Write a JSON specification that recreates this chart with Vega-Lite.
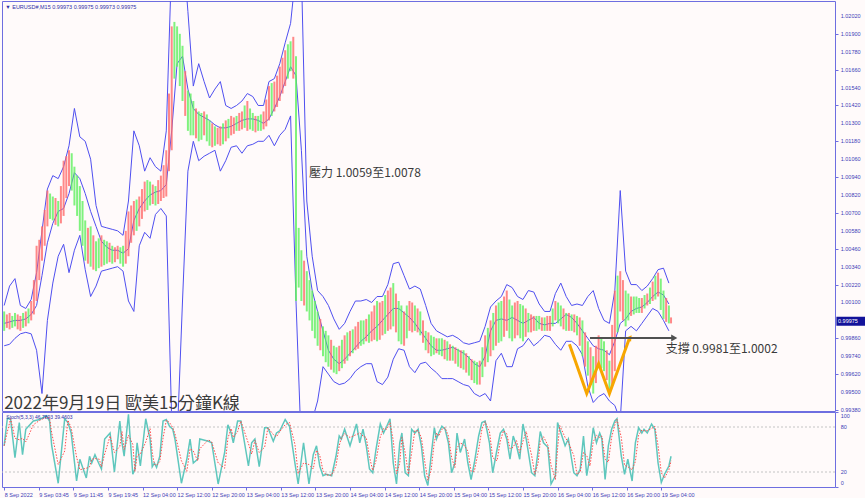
{
"$schema":"https://vega.github.io/schema/vega-lite/v6.json",
"background":"#fffafa",
"padding":0,
"spacing":1,
"bounds":"flush",
"config":{
 "view":{"stroke":"#6e6ee0","strokeWidth":1},
 "axis":{"labelFont":"Liberation Sans","labelFontSize":5.5,"labelColor":"#4040b8","tickColor":"#6e6ee0","domain":false,"grid":false,"tickSize":3,"labelPadding":2,"labelOverlap":false}
},
"datasets":{
"px":[
{"t":0,"lo":0.9991,"hi":1.0004,"s":"d","u":1.0008,"m":0.9996,"b":0.9981},
{"t":5,"lo":0.9992,"hi":1.0003,"s":"u","u":1.0021,"m":0.9997,"b":0.9982},
{"t":10,"lo":0.9994,"hi":1.0003,"s":"d","u":1.0026,"m":0.9998,"b":0.9986},
{"t":15,"lo":0.9991,"hi":1.0001,"s":"u","u":1.0008,"m":0.9998,"b":0.9989},
{"t":20,"lo":0.9994,"hi":1.0004,"s":"u","u":1.0006,"m":0.9999,"b":0.9990},
{"t":25,"lo":0.9998,"hi":1.0011,"s":"u","u":1.0012,"m":1.0002,"b":0.9989},
{"t":30,"lo":1.0011,"hi":1.0048,"s":"u","u":1.0030,"m":1.0008,"b":0.9978},
{"t":35,"lo":1.0038,"hi":1.0061,"s":"u","u":1.0058,"m":1.0028,"b":0.9949},
{"t":40,"lo":1.0061,"hi":1.0085,"s":"u","u":1.0086,"m":1.0050,"b":0.9998},
{"t":45,"lo":1.0065,"hi":1.0081,"s":"d","u":1.0095,"m":1.0063,"b":1.0023},
{"t":50,"lo":1.0061,"hi":1.0078,"s":"d","u":1.0093,"m":1.0071,"b":1.0041},
{"t":55,"lo":1.0068,"hi":1.0105,"s":"u","u":1.0101,"m":1.0073,"b":1.0049},
{"t":60,"lo":1.0088,"hi":1.0112,"s":"u","u":1.0115,"m":1.0083,"b":1.0030},
{"t":65,"lo":1.0075,"hi":1.0101,"s":"d","u":1.0140,"m":1.0097,"b":1.0045},
{"t":70,"lo":1.0058,"hi":1.0088,"s":"d","u":1.0121,"m":1.0093,"b":1.0055},
{"t":75,"lo":1.0038,"hi":1.0065,"s":"d","u":1.0118,"m":1.0083,"b":1.0032},
{"t":80,"lo":1.0034,"hi":1.0061,"s":"d","u":1.0106,"m":1.0071,"b":1.0014},
{"t":85,"lo":1.0031,"hi":1.0051,"s":"d","u":1.0075,"m":1.0061,"b":1.0021},
{"t":90,"lo":1.0034,"hi":1.0055,"s":"u","u":1.0061,"m":1.0051,"b":1.0031},
{"t":95,"lo":1.0036,"hi":1.0051,"s":"d","u":1.0060,"m":1.0047,"b":1.0032},
{"t":100,"lo":1.0036,"hi":1.0048,"s":"d","u":1.0059,"m":1.0045,"b":1.0033},
{"t":105,"lo":1.0039,"hi":1.0048,"s":"u","u":1.0058,"m":1.0045,"b":1.0034},
{"t":110,"lo":1.0034,"hi":1.0048,"s":"d","u":1.0055,"m":1.0043,"b":1.0031},
{"t":115,"lo":1.0041,"hi":1.0071,"s":"u","u":1.0078,"m":1.0046,"b":1.0011},
{"t":120,"lo":1.0055,"hi":1.0078,"s":"u","u":1.0125,"m":1.0065,"b":1.0004},
{"t":125,"lo":1.0061,"hi":1.0081,"s":"u","u":1.0115,"m":1.0073,"b":1.0048},
{"t":130,"lo":1.0071,"hi":1.0091,"s":"u","u":1.0098,"m":1.0078,"b":1.0057},
{"t":135,"lo":1.0075,"hi":1.0091,"s":"d","u":1.0107,"m":1.0082,"b":1.0053},
{"t":140,"lo":1.0075,"hi":1.0088,"s":"d","u":1.0101,"m":1.0084,"b":1.0069},
{"t":145,"lo":1.0078,"hi":1.0095,"s":"u","u":1.0098,"m":1.0085,"b":1.0073},
{"t":150,"lo":1.0081,"hi":1.0112,"s":"u","u":1.0125,"m":1.0089,"b":1.0068},
{"t":155,"lo":1.0112,"hi":1.0195,"s":"u","u":1.0239,"m":1.0125,"b":0.9931},
{"t":160,"lo":1.0168,"hi":1.0195,"s":"d","u":1.0266,"m":1.0170,"b":0.9917},
{"t":165,"lo":1.0145,"hi":1.0182,"s":"d","u":1.0252,"m":1.0175,"b":1.0011},
{"t":170,"lo":1.0125,"hi":1.0152,"s":"d","u":1.0205,"m":1.0153,"b":1.0098},
{"t":175,"lo":1.0122,"hi":1.0145,"s":"d","u":1.0155,"m":1.0140,"b":1.0118},
{"t":180,"lo":1.0118,"hi":1.0138,"s":"d","u":1.0170,"m":1.0136,"b":1.0105},
{"t":185,"lo":1.0122,"hi":1.0138,"s":"u","u":1.0158,"m":1.0134,"b":1.0108},
{"t":190,"lo":1.0115,"hi":1.0132,"s":"d","u":1.0147,"m":1.0132,"b":1.0110},
{"t":195,"lo":1.0115,"hi":1.0128,"s":"d","u":1.0153,"m":1.0129,"b":1.0112},
{"t":200,"lo":1.0115,"hi":1.0128,"s":"u","u":1.0158,"m":1.0127,"b":1.0098},
{"t":205,"lo":1.0118,"hi":1.0132,"s":"u","u":1.0142,"m":1.0127,"b":1.0105},
{"t":210,"lo":1.0122,"hi":1.0135,"s":"u","u":1.0140,"m":1.0128,"b":1.0114},
{"t":215,"lo":1.0125,"hi":1.0135,"s":"d","u":1.0142,"m":1.0130,"b":1.0115},
{"t":220,"lo":1.0126,"hi":1.0138,"s":"u","u":1.0145,"m":1.0132,"b":1.0110},
{"t":225,"lo":1.0125,"hi":1.0145,"s":"u","u":1.0150,"m":1.0133,"b":1.0115},
{"t":230,"lo":1.0125,"hi":1.0137,"s":"d","u":1.0148,"m":1.0133,"b":1.0116},
{"t":235,"lo":1.0125,"hi":1.0135,"s":"d","u":1.0142,"m":1.0132,"b":1.0118},
{"t":240,"lo":1.0126,"hi":1.0138,"s":"u","u":1.0142,"m":1.0130,"b":1.0118},
{"t":245,"lo":1.0132,"hi":1.0155,"s":"u","u":1.0158,"m":1.0133,"b":1.0122},
{"t":250,"lo":1.0138,"hi":1.0158,"s":"u","u":1.0160,"m":1.0140,"b":1.0115},
{"t":255,"lo":1.0145,"hi":1.0168,"s":"u","u":1.0170,"m":1.0148,"b":1.0122},
{"t":260,"lo":1.0155,"hi":1.0179,"s":"u","u":1.0184,"m":1.0158,"b":1.0126},
{"t":265,"lo":1.0165,"hi":1.0185,"s":"d","u":1.0197,"m":1.0168,"b":1.0135},
{"t":270,"lo":1.0011,"hi":1.0175,"s":"d","u":1.0232,"m":1.0162,"b":1.0011},
{"t":275,"lo":1.0011,"hi":1.0045,"s":"d","u":1.0232,"m":1.0112,"b":0.9911},
{"t":280,"lo":1.0004,"hi":1.0031,"s":"d","u":1.0078,"m":1.0041,"b":0.9917},
{"t":285,"lo":0.9991,"hi":1.0018,"s":"d","u":1.0041,"m":1.0018,"b":0.9931},
{"t":290,"lo":0.9981,"hi":1.0004,"s":"d","u":1.0018,"m":1.0004,"b":0.9944},
{"t":295,"lo":0.9974,"hi":0.9994,"s":"d","u":1.0014,"m":0.9991,"b":0.9967},
{"t":300,"lo":0.9967,"hi":0.9988,"s":"d","u":1.0008,"m":0.9978,"b":0.9962},
{"t":305,"lo":0.9963,"hi":0.9981,"s":"d","u":0.9999,"m":0.9972,"b":0.9957},
{"t":310,"lo":0.9964,"hi":0.9981,"s":"u","u":0.9992,"m":0.9969,"b":0.9955},
{"t":315,"lo":0.9969,"hi":0.9988,"s":"u","u":0.9996,"m":0.9972,"b":0.9956},
{"t":320,"lo":0.9974,"hi":0.9991,"s":"u","u":1.0004,"m":0.9976,"b":0.9959},
{"t":325,"lo":0.9978,"hi":0.9994,"s":"u","u":1.0011,"m":0.9980,"b":0.9964},
{"t":330,"lo":0.9981,"hi":0.9998,"s":"d","u":1.0011,"m":0.9984,"b":0.9967},
{"t":335,"lo":0.9984,"hi":0.9999,"s":"u","u":1.0012,"m":0.9987,"b":0.9969},
{"t":340,"lo":0.9984,"hi":1.0004,"s":"u","u":1.0010,"m":0.9991,"b":0.9969},
{"t":345,"lo":0.9984,"hi":1.0011,"s":"d","u":1.0014,"m":0.9994,"b":0.9957},
{"t":350,"lo":0.9988,"hi":1.0011,"s":"u","u":1.0014,"m":0.9998,"b":0.9955},
{"t":355,"lo":0.9991,"hi":1.0018,"s":"u","u":1.0022,"m":1.0002,"b":0.9960},
{"t":360,"lo":0.9994,"hi":1.0023,"s":"d","u":1.0036,"m":1.0006,"b":0.9972},
{"t":365,"lo":0.9984,"hi":1.0011,"s":"d","u":1.0037,"m":1.0006,"b":0.9979},
{"t":370,"lo":0.9981,"hi":1.0004,"s":"u","u":1.0028,"m":1.0003,"b":0.9978},
{"t":375,"lo":0.9991,"hi":1.0011,"s":"u","u":1.0019,"m":1.0000,"b":0.9967},
{"t":380,"lo":0.9991,"hi":1.0008,"s":"d","u":1.0021,"m":0.9996,"b":0.9963},
{"t":385,"lo":0.9988,"hi":1.0004,"s":"d","u":1.0019,"m":0.9991,"b":0.9969},
{"t":390,"lo":0.9978,"hi":0.9991,"s":"d","u":1.0008,"m":0.9986,"b":0.9970},
{"t":395,"lo":0.9974,"hi":0.9988,"s":"d","u":0.9996,"m":0.9981,"b":0.9966},
{"t":400,"lo":0.9976,"hi":0.9986,"s":"u","u":0.9991,"m":0.9978,"b":0.9963},
{"t":405,"lo":0.9974,"hi":0.9986,"s":"d","u":0.9989,"m":0.9978,"b":0.9959},
{"t":410,"lo":0.9971,"hi":0.9984,"s":"d","u":0.9987,"m":0.9979,"b":0.9959},
{"t":415,"lo":0.9971,"hi":0.9981,"s":"d","u":0.9988,"m":0.9980,"b":0.9959},
{"t":420,"lo":0.9967,"hi":0.9979,"s":"d","u":0.9986,"m":0.9978,"b":0.9957},
{"t":425,"lo":0.9965,"hi":0.9978,"s":"d","u":0.9983,"m":0.9976,"b":0.9955},
{"t":430,"lo":0.9961,"hi":0.9974,"s":"d","u":0.9982,"m":0.9973,"b":0.9954},
{"t":435,"lo":0.9956,"hi":0.9971,"s":"d","u":0.9983,"m":0.9969,"b":0.9949},
{"t":440,"lo":0.9955,"hi":0.9971,"s":"u","u":0.9984,"m":0.9967,"b":0.9947},
{"t":445,"lo":0.9967,"hi":0.9988,"s":"u","u":0.9994,"m":0.9974,"b":0.9949},
{"t":450,"lo":0.9974,"hi":0.9998,"s":"u","u":1.0007,"m":0.9991,"b":0.9944},
{"t":455,"lo":0.9981,"hi":1.0008,"s":"u","u":1.0011,"m":0.9998,"b":0.9971},
{"t":460,"lo":0.9984,"hi":1.0011,"s":"d","u":1.0014,"m":0.9999,"b":0.9976},
{"t":465,"lo":0.9991,"hi":1.0018,"s":"u","u":1.0022,"m":0.9998,"b":0.9967},
{"t":470,"lo":0.9984,"hi":1.0008,"s":"d","u":1.0020,"m":1.0000,"b":0.9967},
{"t":475,"lo":0.9988,"hi":1.0011,"s":"u","u":1.0014,"m":0.9998,"b":0.9979},
{"t":480,"lo":0.9984,"hi":1.0008,"s":"d","u":1.0012,"m":0.9996,"b":0.9981},
{"t":485,"lo":0.9990,"hi":1.0003,"s":"d","u":1.0018,"m":0.9998,"b":0.9986},
{"t":490,"lo":0.9991,"hi":1.0001,"s":"u","u":1.0017,"m":1.0000,"b":0.9981},
{"t":495,"lo":0.9992,"hi":1.0001,"s":"d","u":1.0009,"m":0.9996,"b":0.9984},
{"t":500,"lo":0.9991,"hi":1.0000,"s":"d","u":1.0004,"m":0.9995,"b":0.9988},
{"t":505,"lo":0.9991,"hi":1.0001,"s":"u","u":1.0004,"m":0.9996,"b":0.9987},
{"t":510,"lo":0.9998,"hi":1.0011,"s":"u","u":1.0016,"m":0.9996,"b":0.9982},
{"t":515,"lo":0.9994,"hi":1.0008,"s":"d","u":1.0023,"m":0.9999,"b":0.9978},
{"t":520,"lo":0.9991,"hi":1.0003,"s":"d","u":1.0014,"m":1.0002,"b":0.9984},
{"t":525,"lo":0.9991,"hi":1.0002,"s":"d","u":1.0008,"m":1.0000,"b":0.9984},
{"t":530,"lo":0.9988,"hi":1.0001,"s":"d","u":1.0009,"m":0.9996,"b":0.9981},
{"t":535,"lo":0.9974,"hi":0.9998,"s":"d","u":1.0008,"m":0.9991,"b":0.9975},
{"t":540,"lo":0.9961,"hi":0.9984,"s":"d","u":1.0014,"m":0.9986,"b":0.9954},
{"t":545,"lo":0.9949,"hi":0.9974,"s":"d","u":1.0018,"m":0.9981,"b":0.9943},
{"t":550,"lo":0.9967,"hi":0.9988,"s":"u","u":1.0006,"m":0.9979,"b":0.9947},
{"t":555,"lo":0.9964,"hi":0.9984,"s":"d","u":0.9998,"m":0.9978,"b":0.9949},
{"t":560,"lo":0.9952,"hi":0.9971,"s":"d","u":0.9996,"m":0.9975,"b":0.9944},
{"t":565,"lo":0.9964,"hi":1.0018,"s":"u","u":1.0018,"m":0.9984,"b":0.9941},
{"t":570,"lo":1.0004,"hi":1.0031,"s":"u","u":1.0085,"m":0.9996,"b":0.9931},
{"t":575,"lo":0.9994,"hi":1.0018,"s":"d","u":1.0031,"m":0.9999,"b":0.9991},
{"t":580,"lo":1.0001,"hi":1.0014,"s":"u","u":1.0022,"m":1.0004,"b":0.9994},
{"t":585,"lo":1.0003,"hi":1.0014,"s":"d","u":1.0022,"m":1.0006,"b":0.9991},
{"t":590,"lo":1.0003,"hi":1.0013,"s":"u","u":1.0018,"m":1.0007,"b":0.9996},
{"t":595,"lo":1.0008,"hi":1.0016,"s":"u","u":1.0021,"m":1.0010,"b":1.0001},
{"t":600,"lo":1.0011,"hi":1.0024,"s":"u","u":1.0026,"m":1.0014,"b":1.0006},
{"t":605,"lo":1.0014,"hi":1.0030,"s":"u","u":1.0032,"m":1.0017,"b":1.0004},
{"t":610,"lo":0.9999,"hi":1.0018,"s":"d","u":1.0033,"m":1.0015,"b":0.9998},
{"t":615,"lo":0.9996,"hi":1.0008,"s":"d","u":1.0023,"m":1.0009,"b":0.9991}
],
"c2":[
{"t":2.5,"lo":0.9993,"hi":1.0002,"s":"u"},{"t":7.5,"lo":0.9993,"hi":1.0001,"s":"d"},{"t":12.5,"lo":0.9992,"hi":1.0002,"s":"u"},{"t":17.5,"lo":0.9993,"hi":1.0003,"s":"d"},{"t":22.5,"lo":0.9996,"hi":1.0006,"s":"d"},{"t":27.5,"lo":1.0002,"hi":1.0025,"s":"u"},{"t":32.5,"lo":1.0025,"hi":1.0052,"s":"u"},{"t":37.5,"lo":1.0048,"hi":1.0072,"s":"u"},{"t":42.5,"lo":1.0066,"hi":1.0083,"s":"d"},{"t":47.5,"lo":1.0062,"hi":1.008,"s":"u"},
{"t":52.5,"lo":1.0063,"hi":1.0088,"s":"u"},{"t":57.5,"lo":1.008,"hi":1.0108,"s":"u"},{"t":62.5,"lo":1.0085,"hi":1.011,"s":"d"},{"t":67.5,"lo":1.0068,"hi":1.0095,"s":"d"},{"t":72.5,"lo":1.0048,"hi":1.0078,"s":"d"},{"t":77.5,"lo":1.0036,"hi":1.006,"s":"u"},{"t":82.5,"lo":1.0032,"hi":1.0055,"s":"u"},{"t":87.5,"lo":1.0033,"hi":1.0053,"s":"d"},{"t":92.5,"lo":1.0035,"hi":1.0052,"s":"d"},{"t":97.5,"lo":1.0037,"hi":1.005,"s":"u"},
{"t":102.5,"lo":1.0037,"hi":1.0047,"s":"u"},{"t":107.5,"lo":1.0036,"hi":1.0047,"s":"d"},{"t":112.5,"lo":1.0036,"hi":1.0058,"s":"u"},{"t":117.5,"lo":1.005,"hi":1.0075,"s":"u"},{"t":122.5,"lo":1.0058,"hi":1.0079,"s":"d"},{"t":127.5,"lo":1.0066,"hi":1.0086,"s":"u"},{"t":132.5,"lo":1.0072,"hi":1.0092,"s":"d"},{"t":137.5,"lo":1.0076,"hi":1.0089,"s":"u"},{"t":142.5,"lo":1.0076,"hi":1.0092,"s":"u"},{"t":147.5,"lo":1.008,"hi":1.0102,"s":"u"},
{"t":152.5,"lo":1.0098,"hi":1.015,"s":"u"},{"t":157.5,"lo":1.016,"hi":1.0198,"s":"d"},{"t":162.5,"lo":1.0155,"hi":1.019,"s":"d"},{"t":167.5,"lo":1.0135,"hi":1.0165,"s":"u"},{"t":172.5,"lo":1.0122,"hi":1.015,"s":"d"},{"t":177.5,"lo":1.012,"hi":1.014,"s":"u"},{"t":182.5,"lo":1.0119,"hi":1.0137,"s":"d"},{"t":187.5,"lo":1.0118,"hi":1.0136,"s":"d"},{"t":192.5,"lo":1.0114,"hi":1.013,"s":"u"},{"t":197.5,"lo":1.0116,"hi":1.0127,"s":"u"},
{"t":202.5,"lo":1.0116,"hi":1.013,"s":"d"},{"t":207.5,"lo":1.012,"hi":1.0133,"s":"d"},{"t":212.5,"lo":1.0123,"hi":1.0134,"s":"u"},{"t":217.5,"lo":1.0125,"hi":1.0137,"s":"u"},{"t":222.5,"lo":1.0127,"hi":1.0142,"s":"d"},{"t":227.5,"lo":1.0126,"hi":1.014,"s":"d"},{"t":232.5,"lo":1.0124,"hi":1.0135,"s":"u"},{"t":237.5,"lo":1.0125,"hi":1.0136,"s":"d"},{"t":242.5,"lo":1.0128,"hi":1.0146,"s":"u"},{"t":247.5,"lo":1.0135,"hi":1.0157,"s":"d"},
{"t":252.5,"lo":1.0141,"hi":1.0162,"s":"u"},{"t":257.5,"lo":1.015,"hi":1.0174,"s":"u"},{"t":262.5,"lo":1.016,"hi":1.0183,"s":"d"},{"t":267.5,"lo":1.016,"hi":1.0188,"s":"u"},{"t":272.5,"lo":1.002,"hi":1.006,"s":"d"},{"t":277.5,"lo":1.0008,"hi":1.0038,"s":"u"},{"t":282.5,"lo":0.9998,"hi":1.0025,"s":"d"},{"t":287.5,"lo":0.9986,"hi":1.0011,"s":"d"},{"t":292.5,"lo":0.9978,"hi":0.9999,"s":"u"},{"t":297.5,"lo":0.997,"hi":0.9991,"s":"d"},
{"t":302.5,"lo":0.9965,"hi":0.9985,"s":"u"},{"t":307.5,"lo":0.9962,"hi":0.998,"s":"d"},{"t":312.5,"lo":0.9966,"hi":0.9985,"s":"d"},{"t":317.5,"lo":0.9971,"hi":0.999,"s":"d"},{"t":322.5,"lo":0.9976,"hi":0.9992,"s":"d"},{"t":327.5,"lo":0.9979,"hi":0.9997,"s":"u"},{"t":332.5,"lo":0.9982,"hi":0.9998,"s":"d"},{"t":337.5,"lo":0.9983,"hi":1.0002,"s":"d"},{"t":342.5,"lo":0.9985,"hi":1.0008,"s":"u"},{"t":347.5,"lo":0.9985,"hi":1.001,"s":"u"},
{"t":352.5,"lo":0.9989,"hi":1.0015,"s":"d"},{"t":357.5,"lo":0.9992,"hi":1.002,"s":"u"},{"t":362.5,"lo":0.999,"hi":1.0016,"s":"u"},{"t":367.5,"lo":0.9982,"hi":1.0008,"s":"d"},{"t":372.5,"lo":0.9986,"hi":1.0008,"s":"d"},{"t":377.5,"lo":0.999,"hi":1.001,"s":"u"},{"t":382.5,"lo":0.999,"hi":1.0006,"s":"u"},{"t":387.5,"lo":0.9983,"hi":0.9998,"s":"u"},{"t":392.5,"lo":0.9976,"hi":0.999,"s":"u"},{"t":397.5,"lo":0.9975,"hi":0.9987,"s":"d"},
{"t":402.5,"lo":0.9975,"hi":0.9986,"s":"d"},{"t":407.5,"lo":0.9972,"hi":0.9985,"s":"u"},{"t":412.5,"lo":0.9971,"hi":0.9982,"s":"u"},{"t":417.5,"lo":0.9969,"hi":0.998,"s":"u"},{"t":422.5,"lo":0.9966,"hi":0.9978,"s":"u"},{"t":427.5,"lo":0.9963,"hi":0.9976,"s":"u"},{"t":432.5,"lo":0.9958,"hi":0.9972,"s":"u"},{"t":437.5,"lo":0.9955,"hi":0.997,"s":"d"},{"t":442.5,"lo":0.996,"hi":0.998,"s":"d"},{"t":447.5,"lo":0.997,"hi":0.9993,"s":"d"},
{"t":452.5,"lo":0.9978,"hi":1.0003,"s":"d"},{"t":457.5,"lo":0.9983,"hi":1.001,"s":"d"},{"t":462.5,"lo":0.9987,"hi":1.0014,"s":"u"},{"t":467.5,"lo":0.9986,"hi":1.0012,"s":"d"},{"t":472.5,"lo":0.9986,"hi":1.001,"s":"u"},{"t":477.5,"lo":0.9986,"hi":1.0009,"s":"d"},{"t":482.5,"lo":0.9987,"hi":1.0006,"s":"u"},{"t":487.5,"lo":0.999,"hi":1.0002,"s":"u"},{"t":492.5,"lo":0.9991,"hi":1.0001,"s":"d"},{"t":497.5,"lo":0.9991,"hi":1.0,"s":"u"},
{"t":502.5,"lo":0.9991,"hi":1.0001,"s":"u"},{"t":507.5,"lo":0.9994,"hi":1.0006,"s":"d"},{"t":512.5,"lo":0.9996,"hi":1.001,"s":"d"},{"t":517.5,"lo":0.9992,"hi":1.0006,"s":"u"},{"t":522.5,"lo":0.9991,"hi":1.0003,"s":"u"},{"t":527.5,"lo":0.999,"hi":1.0002,"s":"u"},{"t":532.5,"lo":0.9981,"hi":1.0,"s":"u"},{"t":537.5,"lo":0.9967,"hi":0.999,"s":"u"},{"t":542.5,"lo":0.9955,"hi":0.998,"s":"u"},{"t":547.5,"lo":0.9956,"hi":0.9981,"s":"u"},
{"t":552.5,"lo":0.9966,"hi":0.9986,"s":"d"},{"t":557.5,"lo":0.9958,"hi":0.9978,"s":"u"},{"t":562.5,"lo":0.9955,"hi":0.9995,"s":"u"},{"t":567.5,"lo":0.999,"hi":1.0028,"s":"d"},{"t":572.5,"lo":0.9998,"hi":1.0025,"s":"u"},{"t":577.5,"lo":0.9998,"hi":1.0016,"s":"d"},{"t":582.5,"lo":1.0002,"hi":1.0014,"s":"d"},{"t":587.5,"lo":1.0003,"hi":1.0013,"s":"d"},{"t":592.5,"lo":1.0006,"hi":1.0015,"s":"d"},{"t":597.5,"lo":1.0009,"hi":1.002,"s":"d"},
{"t":602.5,"lo":1.0012,"hi":1.0028,"s":"d"},{"t":607.5,"lo":1.0005,"hi":1.0026,"s":"d"},{"t":612.5,"lo":0.9997,"hi":1.0013,"s":"u"},{"t":617,"lo":0.9996,"hi":1.0,"s":"u"}
],
"st":[
{"t":0,"k":55,"d":55},{"t":3,"k":92,"d":74},{"t":6,"k":90,"d":91},{"t":10,"k":39,"d":65},{"t":14,"k":86,"d":63},{"t":17,"k":43,"d":65},{"t":20,"k":77,"d":60},{"t":27,"k":88,"d":83},{"t":33,"k":90,"d":89},{"t":39,"k":95,"d":93},{"t":42,"k":88,"d":92},{"t":44,"k":55,"d":72},{"t":50,"k":5,"d":30},{"t":56,"k":91,"d":48},{"t":59,"k":86,"d":89},{"t":62,"k":72,"d":79},{"t":67,"k":8,"d":40},{"t":70,"k":37,"d":23},{"t":76,"k":12,"d":25},{"t":79,"k":41,"d":27},{"t":81,"k":32,"d":37},{"t":84,"k":43,"d":38},{"t":88,"k":30,"d":37},{"t":90,"k":24,"d":27},{"t":93,"k":64,"d":44},{"t":98,"k":72,"d":68},{"t":102,"k":20,"d":46},{"t":107,"k":88,"d":54},{"t":109,"k":59,"d":74},{"t":111,"k":41,"d":50},{"t":115,"k":97,"d":69},{"t":119,"k":17,"d":57},{"t":121,"k":24,"d":21},{"t":123,"k":59,"d":42},{"t":126,"k":28,"d":44},{"t":131,"k":91,"d":60},{"t":135,"k":64,"d":78},{"t":137,"k":27,"d":46},{"t":139,"k":32,"d":30},{"t":141,"k":26,"d":29},{"t":144,"k":41,"d":34},{"t":147,"k":88,"d":65},{"t":150,"k":90,"d":89},{"t":153,"k":81,"d":86},{"t":156,"k":77,"d":79},{"t":158,"k":64,"d":71},{"t":164,"k":5,"d":35},{"t":169,"k":37,"d":21},{"t":172,"k":64,"d":51},{"t":175,"k":32,"d":48},{"t":179,"k":37,"d":35},{"t":181,"k":64,"d":51},{"t":189,"k":61,"d":63},{"t":192,"k":59,"d":60},{"t":198,"k":4,"d":32},{"t":204,"k":46,"d":25},{"t":207,"k":83,"d":65},{"t":210,"k":72,"d":78},{"t":212,"k":59,"d":66},{"t":216,"k":88,"d":74},{"t":219,"k":88,"d":88},{"t":226,"k":28,"d":58},{"t":229,"k":59,"d":44},{"t":232,"k":64,"d":62},{"t":236,"k":27,"d":46},{"t":241,"k":79,"d":53},{"t":244,"k":79,"d":79},{"t":249,"k":61,"d":70},{"t":252,"k":72,"d":67},{"t":255,"k":75,"d":74},{"t":260,"k":90,"d":83},{"t":264,"k":81,"d":86},{"t":269,"k":32,"d":57},{"t":272,"k":4,"d":18},{"t":277,"k":59,"d":32},{"t":282,"k":4,"d":30},{"t":286,"k":43,"d":24},{"t":289,"k":55,"d":49},{"t":292,"k":28,"d":42},{"t":295,"k":15,"d":22},{"t":298,"k":17,"d":16},{"t":303,"k":15,"d":16},{"t":307,"k":41,"d":28},{"t":310,"k":68,"d":55},{"t":312,"k":64,"d":66},{"t":315,"k":77,"d":71},{"t":320,"k":55,"d":66},{"t":326,"k":84,"d":70},{"t":329,"k":59,"d":72},{"t":332,"k":77,"d":68},{"t":335,"k":55,"d":66},{"t":338,"k":24,"d":40},{"t":341,"k":19,"d":22},{"t":344,"k":50,"d":35},{"t":348,"k":84,"d":67},{"t":351,"k":72,"d":78},{"t":354,"k":81,"d":77},{"t":357,"k":91,"d":86},{"t":360,"k":32,"d":62},{"t":363,"k":4,"d":18},{"t":366,"k":59,"d":32},{"t":368,"k":72,"d":66},{"t":371,"k":19,"d":46},{"t":374,"k":15,"d":17},{"t":377,"k":77,"d":46},{"t":380,"k":72,"d":75},{"t":383,"k":77,"d":75},{"t":386,"k":55,"d":66},{"t":389,"k":15,"d":35},{"t":392,"k":2,"d":9},{"t":395,"k":41,"d":22},{"t":398,"k":79,"d":60},{"t":400,"k":64,"d":72},{"t":402,"k":72,"d":68},{"t":405,"k":81,"d":77},{"t":408,"k":77,"d":79},{"t":411,"k":59,"d":68},{"t":414,"k":19,"d":39},{"t":417,"k":32,"d":26},{"t":419,"k":72,"d":52},{"t":422,"k":46,"d":59},{"t":426,"k":64,"d":55},{"t":429,"k":32,"d":48},{"t":432,"k":10,"d":21},{"t":435,"k":32,"d":21},{"t":439,"k":68,"d":50},{"t":442,"k":86,"d":77},{"t":445,"k":88,"d":87},{"t":449,"k":59,"d":74},{"t":452,"k":19,"d":39},{"t":456,"k":50,"d":35},{"t":459,"k":72,"d":61},{"t":462,"k":77,"d":75},{"t":465,"k":64,"d":71},{"t":468,"k":37,"d":51},{"t":471,"k":68,"d":53},{"t":474,"k":55,"d":62},{"t":477,"k":37,"d":46},{"t":480,"k":84,"d":61},{"t":483,"k":64,"d":74},{"t":488,"k":19,"d":42},{"t":491,"k":15,"d":17},{"t":494,"k":48,"d":32},{"t":496,"k":74,"d":61},{"t":499,"k":59,"d":67},{"t":503,"k":53,"d":56},{"t":506,"k":4,"d":29},{"t":510,"k":15,"d":10},{"t":512,"k":86,"d":51},{"t":514,"k":77,"d":82},{"t":519,"k":55,"d":66},{"t":522,"k":64,"d":60},{"t":527,"k":19,"d":42},{"t":530,"k":15,"d":17},{"t":533,"k":24,"d":20},{"t":536,"k":68,"d":46},{"t":539,"k":15,"d":42},{"t":542,"k":41,"d":28},{"t":545,"k":79,"d":60},{"t":548,"k":59,"d":69},{"t":551,"k":72,"d":66},{"t":553,"k":64,"d":68},{"t":556,"k":10,"d":37},{"t":559,"k":55,"d":33},{"t":562,"k":77,"d":66},{"t":565,"k":88,"d":83},{"t":567,"k":91,"d":90},{"t":571,"k":41,"d":66},{"t":574,"k":17,"d":29},{"t":577,"k":37,"d":27},{"t":581,"k":8,"d":23},{"t":584,"k":59,"d":34},{"t":587,"k":79,"d":69},{"t":590,"k":72,"d":76},{"t":592,"k":77,"d":75},{"t":595,"k":72,"d":75},{"t":599,"k":84,"d":78},{"t":602,"k":77,"d":81},{"t":605,"k":32,"d":55},{"t":608,"k":6,"d":19},{"t":611,"k":17,"d":12},{"t":615,"k":28,"d":23},{"t":617,"k":41,"d":35}
],
"yl":[{"t":774,"p":0.9938,"lab":"0.99380"},{"t":774,"p":0.995,"lab":"0.99500"},{"t":774,"p":0.9962,"lab":"0.99620"},{"t":774,"p":0.9974,"lab":"0.99740"},{"t":774,"p":0.9986,"lab":"0.99860"},{"t":774,"p":1.001,"lab":"1.00100"},{"t":774,"p":1.0022,"lab":"1.00220"},{"t":774,"p":1.0034,"lab":"1.00340"},{"t":774,"p":1.0046,"lab":"1.00460"},{"t":774,"p":1.0058,"lab":"1.00580"},{"t":774,"p":1.007,"lab":"1.00700"},{"t":774,"p":1.0082,"lab":"1.00820"},{"t":774,"p":1.0094,"lab":"1.00940"},{"t":774,"p":1.0106,"lab":"1.01060"},{"t":774,"p":1.0118,"lab":"1.01180"},{"t":774,"p":1.013,"lab":"1.01300"},{"t":774,"p":1.0142,"lab":"1.01420"},{"t":774,"p":1.0154,"lab":"1.01540"},{"t":774,"p":1.0166,"lab":"1.01660"},{"t":774,"p":1.0178,"lab":"1.01780"},{"t":774,"p":1.019,"lab":"1.01900"},{"t":774,"p":1.0202,"lab":"1.02020"}],
"w":[{"i":1,"t":523,"p":0.9982},{"i":2,"t":539,"p":0.9949},{"i":3,"t":550,"p":0.9969},{"i":4,"t":560,"p":0.9949},{"i":5,"t":578,"p":0.9985}],
"arr":[{"t":542,"p":0.99862},{"t":618,"p":0.99862}]
},
"vconcat":[
{
 "width":833,"height":410,
 "data":{"name":"px"},
 "layer":[
  {"mark":{"type":"line","color":"#4f4ff0","strokeWidth":1,"clip":true},
   "encoding":{"x":{"field":"t","type":"quantitative","scale":{"domain":[-2,768.7],"nice":false,"zero":false},"axis":null},
    "y":{"field":"u","type":"quantitative","title":null,"scale":{"domain":[0.99373,1.0212],"nice":false,"zero":false},
     "axis":{"orient":"right","title":null,"labels":false,"values":[0.9938,0.995,0.9962,0.9974,0.9986,1.001,1.0022,1.0034,1.0046,1.0058,1.007,1.0082,1.0094,1.0106,1.0118,1.013,1.0142,1.0154,1.0166,1.0178,1.019,1.0202]}}}},
  {"mark":{"type":"line","color":"#4f4ff0","strokeWidth":1,"clip":true},
   "encoding":{"x":{"field":"t","type":"quantitative","axis":null},"y":{"field":"m","type":"quantitative","title":null}}},
  {"mark":{"type":"line","color":"#4f4ff0","strokeWidth":1,"clip":true},
   "encoding":{"x":{"field":"t","type":"quantitative","axis":null},"y":{"field":"b","type":"quantitative","title":null}}},
  {"mark":{"type":"rule","strokeWidth":2,"opacity":0.8,"clip":true},
   "encoding":{"x":{"field":"t","type":"quantitative","axis":null},"y":{"field":"lo","type":"quantitative","title":null},"y2":{"field":"hi"},
    "color":{"field":"s","type":"nominal","scale":{"domain":["u","d"],"range":["#ff6b6b","#5ff05f"]},"legend":null}}},
  {"data":{"name":"c2"},"mark":{"type":"rule","strokeWidth":2,"opacity":0.8,"clip":true},
   "encoding":{"x":{"field":"t","type":"quantitative","axis":null},"y":{"field":"lo","type":"quantitative","title":null},"y2":{"field":"hi"},
    "color":{"field":"s","type":"nominal","legend":null}}},
  {"data":{"name":"w"},"mark":{"type":"line","color":"#f7a600","strokeWidth":3},
   "encoding":{"x":{"field":"t","type":"quantitative","axis":null},"y":{"field":"p","type":"quantitative","title":null},"order":{"field":"i"}}},
  {"data":{"values":[{"t":579,"p":0.99865}]},"mark":{"type":"point","shape":"triangle-up","angle":35,"filled":true,"size":45,"color":"#f7a600","opacity":1},
   "encoding":{"x":{"field":"t","type":"quantitative","axis":null},"y":{"field":"p","type":"quantitative","title":null}}},
  {"data":{"name":"arr"},"mark":{"type":"line","color":"#505050","strokeWidth":2},
   "encoding":{"x":{"field":"t","type":"quantitative","axis":null},"y":{"field":"p","type":"quantitative","title":null}}},
  {"data":{"values":[{"t":620,"p":0.99862}]},"mark":{"type":"point","shape":"triangle-right","filled":true,"size":50,"color":"#505050","opacity":1},
   "encoding":{"x":{"field":"t","type":"quantitative","axis":null},"y":{"field":"p","type":"quantitative","title":null}}},
  {"data":{"values":[{"t":282,"p":1.0097,"txt":"壓力 1.0059至1.0078"},{"t":612,"p":0.9979,"txt":"支撐 0.9981至1.0002"}]},
   "mark":{"type":"text","align":"left","baseline":"middle","font":"Noto Sans CJK TC","fontSize":12,"color":"#3a3a3a"},
   "encoding":{"x":{"field":"t","type":"quantitative","axis":null},"y":{"field":"p","type":"quantitative","title":null},"text":{"field":"txt"}}},
  {"data":{"values":[{"t":0,"p":0.9942,"txt":"2022年9月19日 歐美15分鐘K線"}]},
   "mark":{"type":"text","align":"left","baseline":"middle","font":"Noto Sans CJK TC","fontSize":17,"color":"#3a3a3a"},
   "encoding":{"x":{"field":"t","type":"quantitative","axis":null},"y":{"field":"p","type":"quantitative","title":null},"text":{"field":"txt"}}},
  {"data":{"values":[{"t":1,"p":1.0208,"txt":"▼ EURUSD#,M15  0.99973 0.99975 0.99973 0.99975"}]},
   "mark":{"type":"text","align":"left","baseline":"middle","font":"Liberation Sans","fontSize":5.5,"color":"#3030a8"},
   "encoding":{"x":{"field":"t","type":"quantitative","axis":null},"y":{"field":"p","type":"quantitative","title":null},"text":{"field":"txt"}}},
  {"data":{"name":"yl"},
   "mark":{"type":"text","align":"left","baseline":"middle","font":"Liberation Sans","fontSize":5.5,"color":"#4040b8","clip":false},
   "encoding":{"x":{"field":"t","type":"quantitative","axis":null},"y":{"field":"p","type":"quantitative","title":null},"text":{"field":"lab"}}},
  {"data":{"values":[{"t1":770,"t2":798,"p1":0.99945,"p2":1.00005}]},
   "mark":{"type":"rect","color":"#12129a","clip":false},
   "encoding":{"x":{"field":"t1","type":"quantitative","axis":null},"x2":{"field":"t2"},"y":{"field":"p1","type":"quantitative","title":null},"y2":{"field":"p2"}}},
  {"data":{"values":[{"t":771.5,"p":0.99975,"txt":"0.99975"}]},
   "mark":{"type":"text","align":"left","baseline":"middle","font":"Liberation Sans","fontSize":5.5,"color":"#ffffff"},
   "encoding":{"x":{"field":"t","type":"quantitative","axis":null},"y":{"field":"p","type":"quantitative","title":null},"text":{"field":"txt"}}}
 ]
},
{
 "width":833,"height":75,
 "layer":[
  {"data":{"values":[{"v":80},{"v":20}]},"mark":{"type":"rule","color":"#c4c4c4","strokeDash":[2,2],"strokeWidth":1},
   "encoding":{"y":{"field":"v","type":"quantitative","title":null,"scale":{"domain":[0,100],"nice":false,"zero":false},"axis":{"orient":"right","title":null,"labels":false,"values":[0,20,80,100]}}}},
  {"data":{"name":"st"},"mark":{"type":"line","color":"#5fc7bd","strokeWidth":1.5},
   "encoding":{"x":{"field":"t","type":"quantitative","title":null,"scale":{"domain":[-2,768.7],"nice":false,"zero":false},
     "axis":{"orient":"bottom","title":null,"values":[0,32,64,96,128,160,192,224,256,288,320,352,384,416,448,480,512,544,576,608],"labelAlign":"left","labelFlush":false,"labelOverlap":false,
      "labelExpr":"['8 Sep 2022','9 Sep 03:45','9 Sep 11:45','9 Sep 19:45','12 Sep 04:00','12 Sep 12:00','12 Sep 20:00','13 Sep 04:00','13 Sep 12:00','13 Sep 20:00','14 Sep 04:00','14 Sep 12:00','14 Sep 20:00','15 Sep 04:00','15 Sep 12:00','15 Sep 20:00','16 Sep 04:00','16 Sep 12:00','16 Sep 20:00','19 Sep 04:00'][round(datum.value/32)]"}},
    "y":{"field":"k","type":"quantitative","title":null}}},
  {"data":{"name":"st"},"mark":{"type":"line","color":"#ff4a4a","strokeWidth":1,"strokeDash":[1.5,1.5]},
   "encoding":{"x":{"field":"t","type":"quantitative","title":null},"y":{"field":"d","type":"quantitative","title":null}}},
  {"data":{"values":[{"t":774,"v":80,"lab":"80"},{"t":774,"v":20,"lab":"20"}]},
   "mark":{"type":"text","align":"left","baseline":"middle","font":"Liberation Sans","fontSize":5.5,"color":"#4040b8","clip":false},
   "encoding":{"x":{"field":"t","type":"quantitative","title":null},"y":{"field":"v","type":"quantitative","title":null},"text":{"field":"lab"}}},
  {"data":{"values":[{"t":774,"v":100,"lab":"100"}]},
   "mark":{"type":"text","align":"left","baseline":"top","dy":2,"font":"Liberation Sans","fontSize":5.5,"color":"#4040b8","clip":false},
   "encoding":{"x":{"field":"t","type":"quantitative","title":null},"y":{"field":"v","type":"quantitative","title":null},"text":{"field":"lab"}}},
  {"data":{"values":[{"t":774,"v":0,"lab":"0"}]},
   "mark":{"type":"text","align":"left","baseline":"bottom","dy":-1,"font":"Liberation Sans","fontSize":5.5,"color":"#4040b8","clip":false},
   "encoding":{"x":{"field":"t","type":"quantitative","title":null},"y":{"field":"v","type":"quantitative","title":null},"text":{"field":"lab"}}},
  {"data":{"values":[{"t":2,"v":93,"txt":"Stoch(5,3,3) 46.7893 39.4603"}]},
   "mark":{"type":"text","align":"left","baseline":"middle","font":"Liberation Sans","fontSize":5,"color":"#3030a8"},
   "encoding":{"x":{"field":"t","type":"quantitative","title":null},"y":{"field":"v","type":"quantitative","title":null},"text":{"field":"txt"}}}
 ]
}
]
}
